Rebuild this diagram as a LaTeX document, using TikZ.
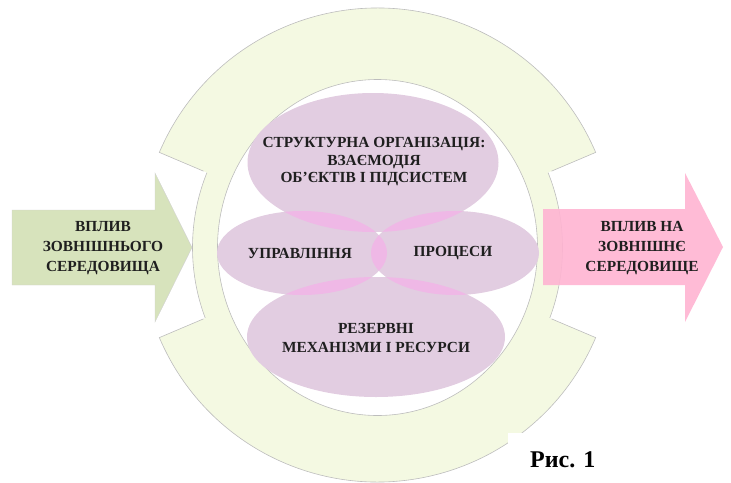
\documentclass[tikz,border=0pt]{standalone}
\usepackage{fontspec}
\setmainfont{Liberation Serif}
\usetikzlibrary{positioning}

\definecolor{ringfill}{HTML}{F4F9E2}
\definecolor{ringline}{HTML}{BDBDBD}
\definecolor{blobfill}{HTML}{E2CDE1}
\definecolor{lensfill}{HTML}{EFB8E6}
\definecolor{infill}{HTML}{D7E3BC}
\definecolor{outfill}{HTML}{FFB4D2}

% ellipse outlines of the four blocks
\newcommand\ellStruct{(373,162.5) ellipse [x radius=125.5, y radius=69.5]}
\newcommand\ellMgmt{(302,253) ellipse [x radius=85, y radius=42]}
\newcommand\ellProc{(455,253) ellipse [x radius=84, y radius=42]}
\newcommand\ellRes{(376,337) ellipse [x radius=129, y radius=60]}

\begin{document}
\begin{tikzpicture}[
  x=1pt, y=-1pt,
  font=\bfseries\fontsize{15.4}{20}\selectfont,
  lbl/.style={align=center, inner sep=0pt, text=black!88},
  edge/.style={draw=ringline, line width=0.6pt},
  lens/.style={fill=lensfill},
]
  \useasboundingbox (0,0) rectangle (731,482);
  \coordinate (ringc) at (377.5,245);
  \coordinate (bandc) at (377.5,247.5);

  % thin band, then the two thick pieces of the ring over it
  \fill[ringfill, even odd rule] (bandc) ellipse [x radius=185, y radius=193]
    (bandc) ellipse [x radius=160, y radius=168];
  \draw[edge] (bandc) ellipse [x radius=185, y radius=193];
  \foreach \a/\b in {23/157, 203/337} {
    \fill[ringfill] (ringc) ++(\a:237) arc[start angle=\a, end angle=\b, radius=237]
      -- ++(\b:-62) arc[start angle=\b, end angle=\a, radius=175] -- cycle;
    \draw[edge] (ringc) ++(\a:189) -- ++(\a:48) arc[start angle=\a, end angle=\b, radius=237]
      -- ++(\b:-48);
  }
  \draw[edge] (bandc) ellipse [x radius=160, y radius=168];

  % inner blocks and their overlaps
  \fill[blobfill] \ellStruct;
  \fill[blobfill] \ellMgmt;
  \fill[blobfill] \ellProc;
  \fill[blobfill] \ellRes;
  \begin{scope}\clip \ellStruct; \fill[lens] \ellMgmt; \fill[lens] \ellProc;\end{scope}
  \begin{scope}\clip \ellRes; \fill[lens] \ellMgmt; \fill[lens] \ellProc;\end{scope}
  \begin{scope}\clip \ellMgmt; \fill[lens] \ellProc;\end{scope}

  \node[lbl, font=\bfseries\fontsize{15.4}{17.5}\selectfont] (struct) at (374,162)
    {СТРУКТУРНА ОРГАНІЗАЦІЯ:\\ВЗАЄМОДІЯ\\ОБ’ЄКТІВ І ПІДСИСТЕМ};
  \node[lbl] (mgmt) at (300,253) {УПРАВЛІННЯ};
  \node[lbl] (proc) at (453,253) {ПРОЦЕСИ};
  \node[lbl, font=\bfseries\fontsize{15.4}{19}\selectfont] (res) at (376,338)
    {РЕЗЕРВНІ\\МЕХАНІЗМИ І РЕСУРСИ};

  % arrows in and out
  \fill[infill, draw=black!18, line width=0.4pt]
    (12,210) -- (155,210) -- (155,173) -- (192,247.5) -- (155,322) -- (155,285) -- (12,285) -- cycle;
  \fill[outfill, fill opacity=0.9]
    (543,209) -- (685,209) -- (685,173) -- (723,247) -- (685,322) -- (685,285) -- (543,285) -- cycle;
  \node[lbl] (envin) at (103,248) {ВПЛИВ\\ЗОВНІШНЬОГО\\СЕРЕДОВИЩА};
  \node[lbl] (envout) at (642,248) {ВПЛИВ НА\\ЗОВНІШНЄ\\СЕРЕДОВИЩЕ};

  % caption box
  \fill[white] (508,433) rectangle (731,482);
  \node[anchor=base west, inner sep=0pt, font=\bfseries\fontsize{24}{28}\selectfont] (fig) at (530,467) {Рис. 1};
\end{tikzpicture}
\end{document}
